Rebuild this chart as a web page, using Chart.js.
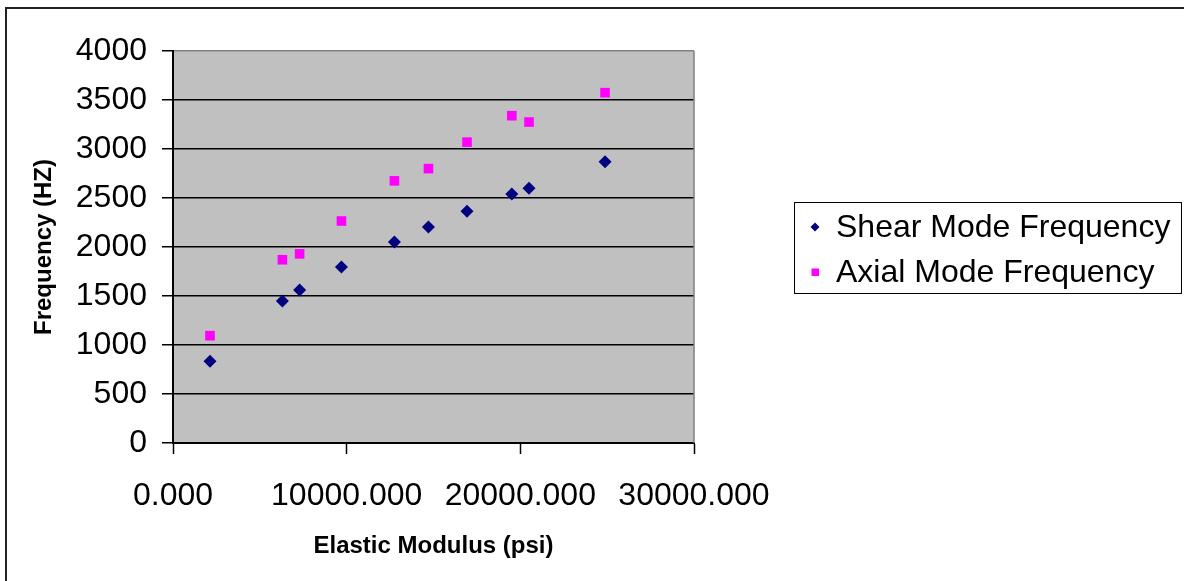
<!DOCTYPE html>
<html>
<head>
<meta charset="utf-8">
<script src="https://cdn.jsdelivr.net/npm/chart.js@4/dist/chart.umd.min.js"></script>
<style>
    html, body { margin: 0; padding: 0; background: #fff; }
    #chart { display: block; }
</style>
</head>
<body>
<canvas id="chart" width="1184" height="581"></canvas>
<script>
// --- Data ---
const elasticModulus = [2130, 6300, 7290, 9700, 12750, 14710, 16930, 19510, 20500, 24880];
const shearFreq = [835, 1450, 1560, 1795, 2050, 2205, 2365, 2540, 2600, 2870];
const axialFreq = [1095, 1870, 1930, 2265, 2675, 2800, 3070, 3340, 3275, 3575];
const seriesNames = ['Shear Mode Frequency', 'Axial Mode Frequency'];
const xTicks = [0, 10000, 20000, 30000];
const yTicks = [0, 500, 1000, 1500, 2000, 2500, 3000, 3500, 4000];

const FONT = '"Liberation Sans", Arial, sans-serif';
const NAVY = '#000080';
const MAGENTA = '#FF00FF';

const toPoints = (ys) => elasticModulus.map((x, i) => ({ x: x, y: ys[i] }));

// background, plot frame, outer border and legend
const excelLook = {
    id: 'excelLook',
    beforeDraw(chart) {
        const { ctx, chartArea: a } = chart;
        ctx.save();
        ctx.fillStyle = '#fff';
        ctx.fillRect(0, 0, chart.width, chart.height);
        ctx.fillStyle = '#C0C0C0';
        ctx.fillRect(a.left, a.top, a.right - a.left, a.bottom - a.top);
        ctx.restore();
    },
    beforeDatasetsDraw(chart) {
        const { ctx, chartArea: a } = chart;
        ctx.save();
        ctx.strokeStyle = '#808080';
        ctx.lineWidth = 1.5;
        ctx.beginPath();
        ctx.moveTo(a.right, a.top);
        ctx.lineTo(a.right, a.bottom);
        ctx.stroke();
        ctx.restore();
    },
    afterDraw(chart) {
        const { ctx } = chart;
        ctx.save();
        // outer chart border (runs off the right and bottom edge)
        ctx.strokeStyle = '#222';
        ctx.lineWidth = 2;
        ctx.strokeRect(6, 8, 1200, 600);

        // legend box
        ctx.strokeStyle = '#000';
        ctx.lineWidth = 1;
        ctx.strokeRect(794.5, 202.5, 387, 91);
        ctx.font = '32px ' + FONT;
        ctx.textBaseline = 'middle';
        ctx.textAlign = 'left';
        const rows = [227, 272];
        // diamond
        ctx.fillStyle = NAVY;
        ctx.beginPath();
        ctx.moveTo(815, rows[0] - 4.5);
        ctx.lineTo(819.5, rows[0]);
        ctx.lineTo(815, rows[0] + 4.5);
        ctx.lineTo(810.5, rows[0]);
        ctx.closePath();
        ctx.fill();
        // square
        ctx.fillStyle = MAGENTA;
        ctx.fillRect(811.5, rows[1] - 3.5, 7.5, 7.5);
        ctx.fillStyle = '#000';
        seriesNames.forEach((name, i) => ctx.fillText(name, 836, rows[i] + 1));
        ctx.restore();
    }
};

new Chart(document.getElementById('chart'), {
    type: 'scatter',
    data: {
        datasets: [
            {
                label: seriesNames[0],
                data: toPoints(shearFreq),
                pointStyle: 'rectRot',
                pointRadius: 6.5,
                backgroundColor: NAVY,
                borderColor: NAVY,
                borderWidth: 0
            },
            {
                label: seriesNames[1],
                data: toPoints(axialFreq),
                pointStyle: 'rect',
                pointRadius: 6.8,
                backgroundColor: MAGENTA,
                borderColor: MAGENTA,
                borderWidth: 0
            }
        ]
    },
    options: {
        responsive: false,
        animation: false,
        devicePixelRatio: 1,
        events: [],
        layout: { padding: { left: 0, top: 51, right: 490, bottom: 0 } },
        plugins: {
            legend: { display: false },
            tooltip: { enabled: false }
        },
        scales: {
            x: {
                type: 'linear',
                min: 0,
                max: 30000,
                afterFit: (scale) => { scale.height = 138; },
                afterBuildTicks: (scale) => { scale.ticks = xTicks.map(v => ({ value: v })); },
                ticks: {
                    color: '#000',
                    font: { family: FONT, size: 32 },
                    padding: 23,
                    maxRotation: 0,
                    autoSkip: false,
                    callback: (v) => Number(v).toFixed(3)
                },
                grid: {
                    drawOnChartArea: false,
                    tickLength: 11,
                    tickColor: '#000',
                    tickWidth: 1.5
                },
                border: { color: '#000', width: 2 },
                title: {
                    display: true,
                    text: 'Elastic Modulus (psi)',
                    color: '#000',
                    font: { family: FONT, size: 24, weight: 'bold' },
                    padding: { top: 0, bottom: 20 }
                }
            },
            y: {
                type: 'linear',
                min: 0,
                max: 4000,
                afterFit: (scale) => { scale.width = 173; },
                afterBuildTicks: (scale) => { scale.ticks = yTicks.map(v => ({ value: v })); },
                ticks: {
                    color: '#000',
                    font: { family: FONT, size: 32 },
                    padding: 15,
                    autoSkip: false,
                    callback: (v) => String(v)
                },
                grid: {
                    color: (c) => (c.tick && c.tick.value === 4000 ? '#808080' : '#000'),
                    lineWidth: 1.5,
                    tickLength: 11,
                    tickColor: '#000',
                    tickWidth: 1.5
                },
                border: { color: '#000', width: 2 },
                title: {
                    display: true,
                    text: 'Frequency (HZ)',
                    color: '#000',
                    font: { family: FONT, size: 24, weight: 'bold' },
                    padding: { top: 30, bottom: 0 }
                }
            }
        }
    },
    plugins: [excelLook]
});
</script>
</body>
</html>
